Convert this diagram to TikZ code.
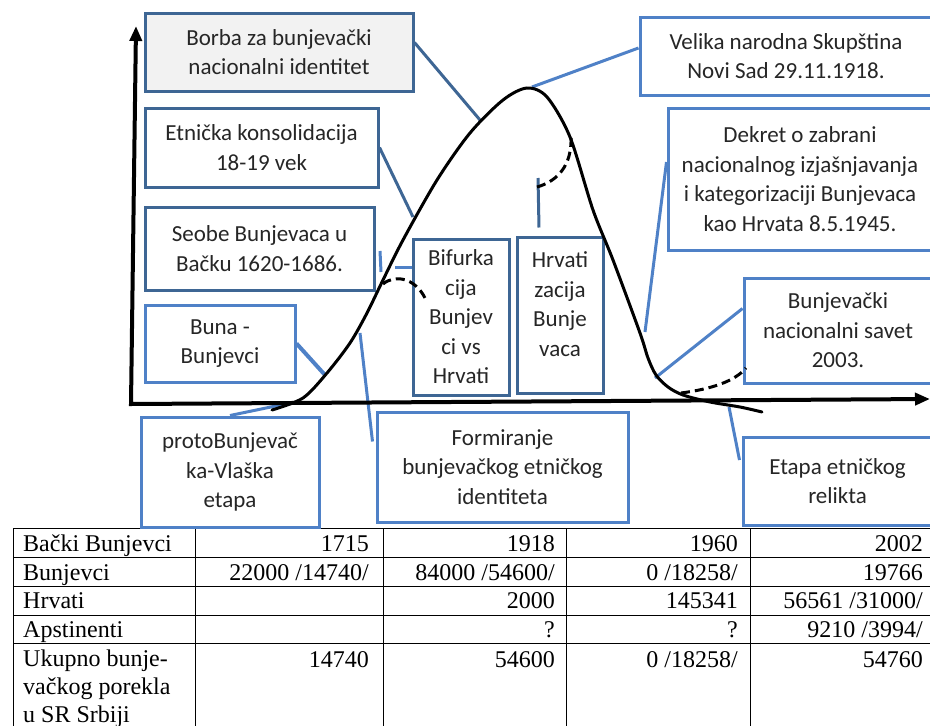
\documentclass[tikz,border=0pt]{standalone}
\usepackage{fontspec}
\setmainfont{Carlito}
\newfontfamily\tablefont{Liberation Serif}
\usetikzlibrary{arrows.meta, calc}
\definecolor{boxdark}{RGB}{62,102,148}
\definecolor{boxlight}{RGB}{79,129,199}
\definecolor{boxgray}{RGB}{242,242,242}
\tikzset{
x=1pt, y=-1pt, % coordinates in pixels, y grows downwards
tbox/.style={draw=boxlight, line width=3pt, fill=white, inner sep=0pt, align=center, text=black!85, font=\fontsize{23}{29.5}\selectfont}, % the text boxes
tboxdark/.style={tbox, draw=boxdark}, % boxes with the darker frame
conn/.style={draw=boxlight, line width=3pt}, % callout lines
conndark/.style={conn, draw=boxdark},
axis/.style={line width=4pt, line join=miter, {Triangle[length=15pt, width=12pt]}-{Triangle[length=15pt, width=12pt]}},
wave/.style={line width=3pt, line cap=round},
wavedash/.style={line width=3pt, dash pattern=on 9pt off 5pt},
cell/.style={inner sep=0pt, font=\tablefont\fontsize{24}{28}\selectfont},
grid line/.style={line width=1pt},
}

\begin{document}
\begin{tikzpicture}
        \useasboundingbox (0,0) rectangle (930,726);

        % table
        \foreach \x in {13,195,383,566,750,932} \draw[grid line] (\x,528) -- (\x,726);
        \foreach \y in {528,557,586,615,643} \draw[grid line] (13,\y) -- (932,\y);

        \node[cell, anchor=base west] (row1-label) at (23,551) {Bački Bunjevci};
        \node[cell, anchor=base east] (row1-c1) at (369,551) {1715};
        \node[cell, anchor=base east] (row1-c2) at (555,551) {1918};
        \node[cell, anchor=base east] (row1-c3) at (738,551) {1960};
        \node[cell, anchor=base east] (row1-c4) at (923,551) {2002};

        \node[cell, anchor=base west] (row2-label) at (23,580) {Bunjevci};
        \node[cell, anchor=base east] (row2-c1) at (369,580) {22000 /14740/};
        \node[cell, anchor=base east] (row2-c2) at (555,580) {84000 /54600/};
        \node[cell, anchor=base east] (row2-c3) at (738,580) {0 /18258/};
        \node[cell, anchor=base east] (row2-c4) at (923,580) {19766};

        \node[cell, anchor=base west] (row3-label) at (23,608) {Hrvati};
        \node[cell, anchor=base east] (row3-c2) at (555,608) {2000};
        \node[cell, anchor=base east] (row3-c3) at (738,608) {145341};
        \node[cell, anchor=base east] (row3-c4) at (923,608) {56561 /31000/};

        \node[cell, anchor=base west] (row4-label) at (23,637) {Apstinenti};
        \node[cell, anchor=base east] (row4-c2) at (555,637) {?};
        \node[cell, anchor=base east] (row4-c3) at (738,637) {?};
        \node[cell, anchor=base east] (row4-c4) at (923,637) {9210 /3994/};

        \node[cell, anchor=north west, align=left] (row5-label) at (23,650) {Ukupno bunje-\\vačkog porekla\\u SR Srbiji};
        \node[cell, anchor=base east] (row5-c1) at (369,667) {14740};
        \node[cell, anchor=base east] (row5-c2) at (555,667) {54600};
        \node[cell, anchor=base east] (row5-c3) at (738,667) {0 /18258/};
        \node[cell, anchor=base east] (row5-c4) at (923,667) {54760};

        % points on the curve
        \coordinate (c-borba) at (480,120);
        \coordinate (c-etnicka) at (413,217);
        \coordinate (c-buna) at (325,375);
        \coordinate (c-proto) at (290,403);
        \coordinate (c-formiranje) at (360,333);
        \coordinate (c-velika) at (532,87);
        \coordinate (c-hrvat) at (538,178);
        \coordinate (c-dekret) at (645,332);
        \coordinate (c-savet) at (655,378);
        \coordinate (c-etapa) at (729,407);
        \coordinate (s-top) at (380,251);
        \coordinate (s-bottom) at (381,272);
        \coordinate (bif-stub) at (395,267);

        % boxes
        \node[tboxdark, fill=boxgray, minimum width=268, minimum height=78] (borba) at (279,52) {Borba za bunjevački\\nacionalni identitet};
        \node[tboxdark, minimum width=233, minimum height=79] (etnicka) at (261.5,147.5) {Etnička konsolidacija\\18-19 vek};
        \node[tboxdark, minimum width=229, minimum height=83] (seobe) at (259.5,248.5) {Seobe Bunjevaca u\\Bačku 1620-1686.};
        \node[tbox, minimum width=150, minimum height=77] (buna) at (220,343.5) {Buna -\\Bunjevci};
        \node[tbox, minimum width=178, minimum height=110] (proto) at (230,472) {protoBunjevač\\ka-Vlaška\\etapa};
        \node[tbox, minimum width=251, minimum height=110] (formiranje) at (502.5,467) {Formiranje\\bunjevačkog etničkog\\identiteta};
        \node[tboxdark, minimum width=96, minimum height=156] (bifurkacija) at (461,317) {Bifurka\\cija\\Bunjev\\ci vs\\Hrvati};
        \node[tboxdark, minimum width=86, minimum height=156] (hrvatizacija) at (560,315) {\parbox[c][126pt][t]{80pt}{\centering Hrvati\\zacija\\Bunje\\vaca}};
        \node[tbox, minimum width=292, minimum height=78] (velika) at (786,56) {Velika narodna Skupština\\Novi Sad 29.11.1918.};
        \node[tbox, minimum width=264, minimum height=142] (dekret) at (800,179) {Dekret o zabrani\\nacionalnog izjašnjavanja\\i kategorizaciji Bunjevaca\\kao Hrvata 8.5.1945.};
        \node[tbox, minimum width=188, minimum height=105] (savet) at (838,330.5) {Bunjevački\\nacionalni savet\\2003.};
        \node[tbox, minimum width=189, minimum height=88] (etapa) at (837.5,481) {Etapa etničkog\\relikta};

        % callout lines
        \draw[conndark] (borba.4) -- (c-borba);
        \draw[conndark] (etnicka.east) -- (c-etnicka);
        \draw[conn] (s-top) -- (s-bottom);
        \draw[conn] (bif-stub) -- (bif-stub -| bifurkacija.west);
        \draw[conn, line width=4pt] (buna.east) -- (c-buna);
        \draw[conn] (proto.north) -- (c-proto);
        \draw[conn] (c-formiranje) -- ($(formiranje.north west)+(-3,31)$);
        \draw[conndark] ($(hrvatizacija.north)+(-21,-8)$) -- (c-hrvat);
        \draw[conn] ($(velika.west)+(0,-8)$) -- (c-velika);
        \draw[conn] ($(dekret.west)+(0,-17)$) -- (c-dekret);
        \draw[conn] ($(savet.west)+(0,-22)$) -- (c-savet);
        \draw[conn] ($(etapa.west)+(-2,-21)$) -- (c-etapa);

        % axes
        \coordinate (origin) at (131,404);
        \draw[axis] (136,26) -- (origin) -- (930,399);

        % the curve
        \draw[wave] plot[smooth, tension=0.5] coordinates {(272,410) (303,398) (327,373) (350,343) (367,313) (383,280) (403,240) (437,180) (470,133) (503,100) (527,88) (547,97) (570,137) (593,210) (613,260) (640,333) (648,358) (656,375) (668,387) (683,395) (710,402) (740,407) (762,412)};
        \draw[wavedash] (383,284) .. controls (395,274) and (415,278) .. (425,298);
        \draw[wavedash] (537,187) .. controls (558,181) and (572,165) .. (571,137);
        \draw[wavedash] (681,393) .. controls (712,389) and (735,381) .. (746,368);
    \end{tikzpicture}
\end{document}
